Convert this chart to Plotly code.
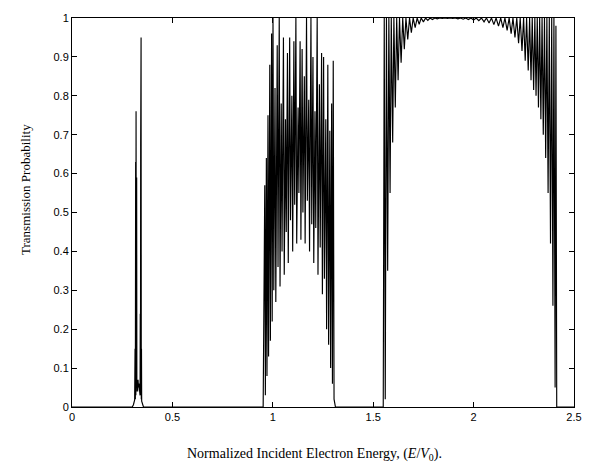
import plotly.graph_objects as go

# Allowed band 1 (narrow resonances near E/V0 ~ 0.33)
band1_E = [0.300, 0.306, 0.312, 0.314, 0.3155, 0.317, 0.318, 0.319, 0.3205, 0.322,
           0.323, 0.325, 0.327, 0.329, 0.331, 0.333, 0.335, 0.337, 0.339, 0.340,
           0.341, 0.342, 0.343, 0.344, 0.345, 0.346, 0.347, 0.352, 0.356]
band1_T = [0.0, 0.006, 0.018, 0.15, 0.02, 0.63, 0.03, 0.76, 0.04, 0.59,
           0.05, 0.07, 0.04, 0.07, 0.05, 0.06, 0.04, 0.05, 0.03, 0.24,
           0.03, 0.67, 0.02, 0.95, 0.02, 0.15, 0.015, 0.006, 0.0]

# Allowed band 2: resonance maxima and the minima between them
band2_edges = [0.952, 1.312]
band2_peak_E = [0.960, 0.968, 0.976, 0.985, 0.994, 1.001, 1.011, 1.022, 1.032, 1.042,
                1.053, 1.063, 1.073, 1.084, 1.095, 1.105, 1.115, 1.126, 1.136, 1.146,
                1.157, 1.168, 1.179, 1.190, 1.200, 1.210, 1.221, 1.232, 1.243, 1.253,
                1.264, 1.274, 1.284, 1.293, 1.301]
band2_peak_T = [0.57, 0.64, 0.75, 0.88, 0.96, 1.00, 0.82, 0.93, 1.00, 0.78,
                0.95, 0.74, 0.91, 0.95, 0.80, 0.94, 1.00, 0.77, 0.94, 0.92,
                0.85, 1.00, 0.79, 1.00, 0.90, 0.76, 1.00, 0.83, 0.91, 0.90,
                0.74, 0.88, 0.71, 0.78, 0.89]
band2_dip_E = [0.963, 0.971, 0.979, 0.988, 0.997, 1.005, 1.015, 1.026, 1.036, 1.046,
               1.057, 1.067, 1.077, 1.088, 1.099, 1.109, 1.119, 1.130, 1.140, 1.150,
               1.161, 1.172, 1.183, 1.194, 1.204, 1.214, 1.225, 1.236, 1.247, 1.257,
               1.268, 1.278, 1.288, 1.297, 1.305]
band2_dip_T = [0.03, 0.08, 0.13, 0.17, 0.22, 0.30, 0.27, 0.36, 0.31, 0.40,
               0.34, 0.45, 0.37, 0.48, 0.40, 0.52, 0.42, 0.55, 0.43, 0.50,
               0.42, 0.53, 0.40, 0.47, 0.37, 0.46, 0.34, 0.41, 0.29, 0.33,
               0.20, 0.16, 0.10, 0.06, 0.02]

# Allowed band 3: nearly full transmission with shallow ripples
band3_edges = [1.550, 2.414]
band3_peak_E = [1.555, 1.566, 1.578, 1.590, 1.603, 1.617, 1.631, 1.647, 1.663, 1.681,
                1.699, 1.719, 1.739, 1.761, 1.783, 1.807, 1.831, 1.857, 1.883, 1.909,
                1.935, 1.961, 1.987, 2.013, 2.039, 2.064, 2.089, 2.112, 2.135, 2.156,
                2.177, 2.196, 2.215, 2.232, 2.249, 2.264, 2.279, 2.292, 2.305, 2.317,
                2.329, 2.341, 2.353, 2.365, 2.377, 2.389, 2.400, 2.410]
band3_peak_T = [1.0, 1.0, 1.0, 1.0, 1.0, 1.0, 1.0, 1.0, 1.0, 1.0,
                1.0, 1.0, 1.0, 1.0, 1.0, 1.0, 1.0, 1.0, 1.0, 1.0,
                1.0, 1.0, 1.0, 1.0, 1.0, 1.0, 1.0, 1.0, 1.0, 1.0,
                1.0, 1.0, 1.0, 1.0, 1.0, 1.0, 1.0, 1.0, 1.0, 1.0,
                1.0, 1.0, 1.0, 1.0, 1.0, 1.0, 1.0, 0.98]
band3_dip_E = [1.560, 1.572, 1.584, 1.597, 1.610, 1.624, 1.639, 1.655, 1.672, 1.690,
               1.709, 1.729, 1.750, 1.772, 1.795, 1.819, 1.844, 1.870, 1.896, 1.922,
               1.948, 1.974, 2.000, 2.026, 2.052, 2.077, 2.101, 2.124, 2.146, 2.167,
               2.187, 2.206, 2.224, 2.241, 2.257, 2.272, 2.286, 2.299, 2.311, 2.323,
               2.335, 2.347, 2.359, 2.371, 2.383, 2.395, 2.406]
band3_dip_T = [0.02, 0.35, 0.55, 0.68, 0.77, 0.84, 0.885, 0.92, 0.945, 0.962,
               0.975, 0.984, 0.990, 0.994, 0.996, 0.998, 0.999, 0.999, 0.999, 0.998,
               0.997, 0.996, 0.995, 0.993, 0.990, 0.987, 0.983, 0.979, 0.975, 0.968,
               0.960, 0.950, 0.935, 0.915, 0.890, 0.865, 0.840, 0.815, 0.800, 0.770,
               0.740, 0.700, 0.640, 0.550, 0.420, 0.260, 0.05]

x_ticks = [0, 0.5, 1, 1.5, 2, 2.5]
y_ticks = [0, 0.1, 0.2, 0.3, 0.4, 0.5, 0.6, 0.7, 0.8, 0.9, 1]


def band_curve(edges, peak_E, peak_T, dip_E, dip_T):
    """Merge band edges, maxima and minima into one curve ordered by energy."""
    pts = [(edges[0], 0.0), (edges[1], 0.0)]
    pts += list(zip(peak_E, peak_T)) + list(zip(dip_E, dip_T))
    pts.sort(key=lambda p: p[0])
    return [p[0] for p in pts], [p[1] for p in pts]


b2_E, b2_T = band_curve(band2_edges, band2_peak_E, band2_peak_T, band2_dip_E, band2_dip_T)
b3_E, b3_T = band_curve(band3_edges, band3_peak_E, band3_peak_T, band3_dip_E, band3_dip_T)

energy = [0.0] + band1_E + b2_E + b3_E + [2.5]
transmission = [0.0] + band1_T + b2_T + b3_T + [0.0]

fig = go.Figure()
fig.add_trace(go.Scatter(
    x=energy, y=transmission, mode="lines",
    line=dict(color="black", width=1.15),
    showlegend=False, hoverinfo="skip",
))

tick_font = dict(family="Liberation Sans, Arial, sans-serif", size=11, color="black")
axis_common = dict(
    showgrid=False, zeroline=False,
    showline=True, linecolor="black", linewidth=1,
    mirror="ticks", ticks="inside", ticklen=5, tickcolor="black", tickwidth=1,
    tickfont=tick_font,
)

fig.update_layout(
    width=594, height=468,
    margin=dict(l=72, r=17, t=14, b=61),
    paper_bgcolor="white", plot_bgcolor="white",
    xaxis=dict(range=[0, 2.5], tickvals=x_ticks,
               ticktext=[f"{v:g}" for v in x_ticks], **axis_common),
    yaxis=dict(range=[0, 1], tickvals=y_ticks,
               ticktext=[f"{v:g}" for v in y_ticks], **axis_common),
    annotations=[
        dict(text="Normalized Incident Electron Energy, (<i>E</i>/<i>V</i><sub>0</sub>).",
             xref="paper", yref="paper", x=0.483, y=-0.122,
             xanchor="center", yanchor="middle", showarrow=False,
             font=dict(family="Liberation Serif, Times New Roman, serif", size=14, color="black")),
        dict(text="Transmission Probability",
             xref="paper", yref="paper", x=-0.094, y=0.56,
             xanchor="center", yanchor="middle", textangle=-90, showarrow=False,
             font=dict(family="Liberation Serif, Times New Roman, serif", size=13, color="black")),
    ],
)

fig.write_html("out.html")
